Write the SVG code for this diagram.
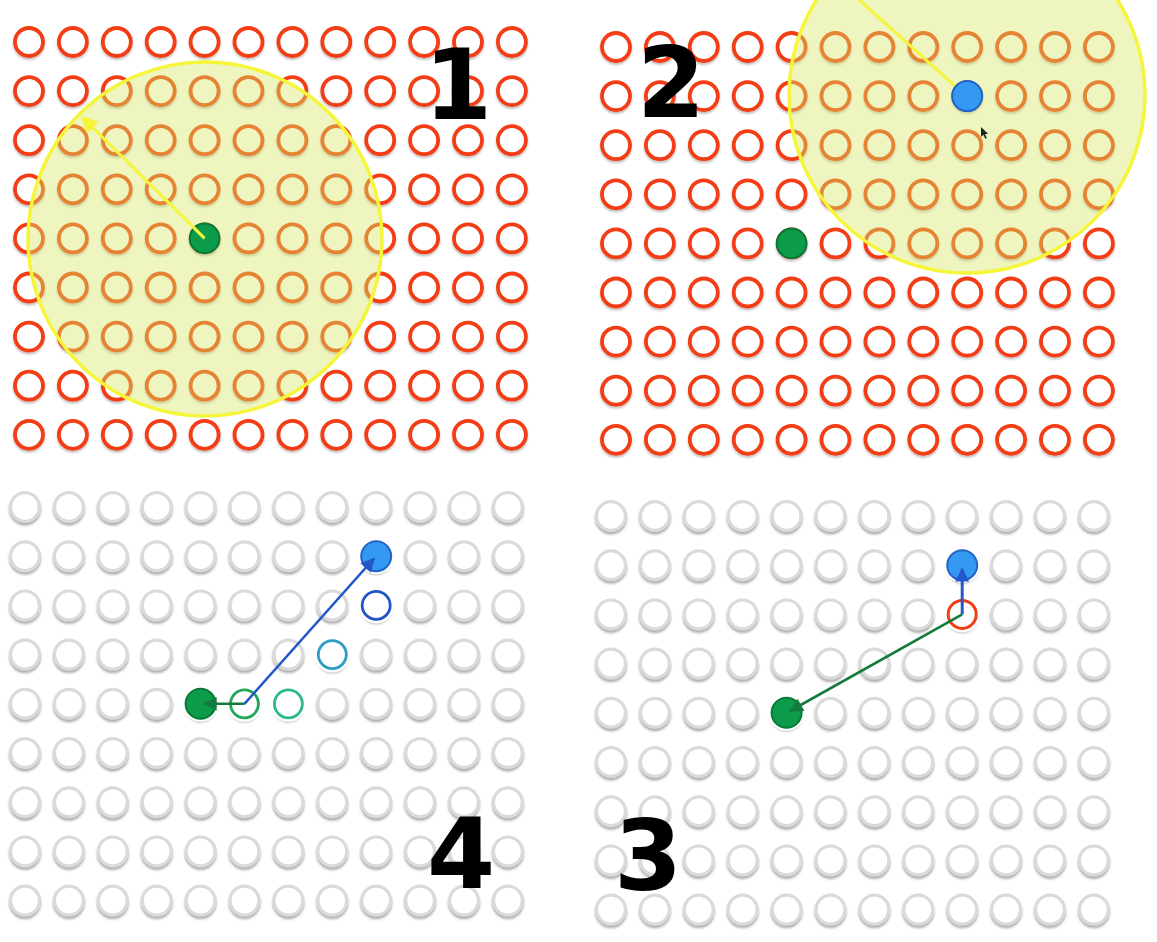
<svg xmlns="http://www.w3.org/2000/svg" xmlns:xlink="http://www.w3.org/1999/xlink" width="1157" height="942" viewBox="0 0 1157 942">
<style>
.red{fill:#fff;stroke:#f23c12;stroke-width:3.8}
.gray{fill:#fff;stroke:#dadada;stroke-width:3.2}
.zone{fill:rgb(214,230,100);fill-opacity:0.42;stroke:#f5f53a;stroke-width:3.5}
.gdot{fill:#0c9b4a;stroke:#087a38;stroke-width:2}
.bdot{fill:#3399f2;stroke:#2263c8;stroke-width:2}
.lbl{font-family:"DejaVu Sans",sans-serif;font-weight:bold;font-size:98px;fill:#000;text-anchor:middle}
</style>
<defs>
<filter id="sh" x="-5%" y="-5%" width="110%" height="115%">
<feDropShadow dx="0" dy="2" stdDeviation="1.2" flood-color="#000" flood-opacity="0.25"/>
</filter>
<filter id="shg" x="-5%" y="-5%" width="110%" height="115%">
<feDropShadow dx="0" dy="2.5" stdDeviation="1.3" flood-color="#777" flood-opacity="0.6"/>
</filter>
<g id="redrow">
<circle class="red" cx="0" cy="0" r="14"/><circle class="red" cx="43.9" cy="0" r="14"/><circle class="red" cx="87.8" cy="0" r="14"/><circle class="red" cx="131.7" cy="0" r="14"/><circle class="red" cx="175.6" cy="0" r="14"/><circle class="red" cx="219.5" cy="0" r="14"/><circle class="red" cx="263.4" cy="0" r="14"/><circle class="red" cx="307.3" cy="0" r="14"/><circle class="red" cx="351.2" cy="0" r="14"/><circle class="red" cx="395.1" cy="0" r="14"/><circle class="red" cx="439" cy="0" r="14"/><circle class="red" cx="482.9" cy="0" r="14"/>
</g>
<g id="grayrow">
<circle class="gray" cx="0" cy="0" r="14.4"/><circle class="gray" cx="43.9" cy="0" r="14.4"/><circle class="gray" cx="87.8" cy="0" r="14.4"/><circle class="gray" cx="131.7" cy="0" r="14.4"/><circle class="gray" cx="175.6" cy="0" r="14.4"/><circle class="gray" cx="219.5" cy="0" r="14.4"/><circle class="gray" cx="263.4" cy="0" r="14.4"/><circle class="gray" cx="307.3" cy="0" r="14.4"/><circle class="gray" cx="351.2" cy="0" r="14.4"/><circle class="gray" cx="395.1" cy="0" r="14.4"/><circle class="gray" cx="439" cy="0" r="14.4"/><circle class="gray" cx="482.9" cy="0" r="14.4"/>
</g>
<marker id="ay" viewBox="0 0 10 10" refX="9" refY="5" markerUnits="userSpaceOnUse" markerWidth="19" markerHeight="17" orient="auto"><path d="M0,0 L10,5 L0,10 z" fill="#f5f53a"/></marker>
<marker id="ab" viewBox="0 0 10 10" refX="9" refY="5" markerUnits="userSpaceOnUse" markerWidth="16" markerHeight="14" orient="auto"><path d="M0,0 L10,5 L0,10 z" fill="#2457c8"/></marker>
<marker id="ag" viewBox="0 0 10 10" refX="9" refY="5" markerUnits="userSpaceOnUse" markerWidth="16" markerHeight="14" orient="auto"><path d="M0,0 L10,5 L0,10 z" fill="#157a3e"/></marker>
</defs>
<rect width="1157" height="942" fill="#fff"/>

<g id="panel1">
<g filter="url(#sh)">
<use xlink:href="#redrow" x="29" y="42"/><use xlink:href="#redrow" x="29" y="91.1"/><use xlink:href="#redrow" x="29" y="140.2"/><use xlink:href="#redrow" x="29" y="189.3"/><use xlink:href="#redrow" x="29" y="238.4"/><use xlink:href="#redrow" x="29" y="287.5"/><use xlink:href="#redrow" x="29" y="336.6"/><use xlink:href="#redrow" x="29" y="385.7"/><use xlink:href="#redrow" x="29" y="434.8"/>
</g>
<circle id="p1-range" class="zone" cx="205" cy="239" r="177"/>
<circle id="p1-green" class="gdot" cx="204.6" cy="238.4" r="14.8"/>
<text class="lbl" x="458" y="119">1</text>
</g>

<g id="panel2">
<g filter="url(#sh)">
<use xlink:href="#redrow" x="616" y="47"/><use xlink:href="#redrow" x="616" y="96.1"/><use xlink:href="#redrow" x="616" y="145.2"/><use xlink:href="#redrow" x="616" y="194.3"/><use xlink:href="#redrow" x="616" y="243.4"/><use xlink:href="#redrow" x="616" y="292.5"/><use xlink:href="#redrow" x="616" y="341.6"/><use xlink:href="#redrow" x="616" y="390.7"/><use xlink:href="#redrow" x="616" y="439.8"/>
</g>
<circle id="p2-green" class="gdot" cx="791.6" cy="243.4" r="14.8"/>
<circle id="p2-range" class="zone" cx="967" cy="95" r="178"/>
<text class="lbl" x="671" y="117">2</text>
</g>

<g id="panel4">
<g filter="url(#shg)">
<use xlink:href="#grayrow" x="25" y="507"/><use xlink:href="#grayrow" x="25" y="556.2"/><use xlink:href="#grayrow" x="25" y="605.4"/><use xlink:href="#grayrow" x="25" y="654.6"/><use xlink:href="#grayrow" x="25" y="703.8"/><use xlink:href="#grayrow" x="25" y="753"/><use xlink:href="#grayrow" x="25" y="802.2"/><use xlink:href="#grayrow" x="25" y="851.4"/><use xlink:href="#grayrow" x="25" y="900.6"/>
</g>
<g id="p4-cells">
<circle cx="244.5" cy="703.8" r="18" fill="#fff"/>
<circle cx="288.4" cy="703.8" r="18" fill="#fff"/>
<circle cx="332.3" cy="654.6" r="18" fill="#fff"/>
<circle cx="376.2" cy="605.4" r="18" fill="#fff"/>
<circle cx="376.2" cy="556.2" r="18" fill="#fff"/>
<circle cx="200.6" cy="703.8" r="18" fill="#fff"/>
<circle cx="244.5" cy="703.8" r="14" fill="#fff" stroke="#22a85a" stroke-width="2.8"/>
<circle cx="288.4" cy="703.8" r="14" fill="#fff" stroke="#2db88e" stroke-width="2.8"/>
<circle cx="332.3" cy="654.6" r="14" fill="#fff" stroke="#2f9cc4" stroke-width="2.8"/>
<circle cx="376.2" cy="605.4" r="14" fill="#fff" stroke="#2254c4" stroke-width="2.8"/>
</g>
<circle id="p4-blue" class="bdot" cx="376.2" cy="556.2" r="15"/>
<circle id="p4-green" class="gdot" cx="200.6" cy="703.8" r="15"/>
<text class="lbl" x="461" y="888">4</text>
</g>

<g id="panel3">
<g filter="url(#shg)">
<use xlink:href="#grayrow" x="611" y="516"/><use xlink:href="#grayrow" x="611" y="565.2"/><use xlink:href="#grayrow" x="611" y="614.4"/><use xlink:href="#grayrow" x="611" y="663.6"/><use xlink:href="#grayrow" x="611" y="712.8"/><use xlink:href="#grayrow" x="611" y="762"/><use xlink:href="#grayrow" x="611" y="811.2"/><use xlink:href="#grayrow" x="611" y="860.4"/><use xlink:href="#grayrow" x="611" y="909.6"/>
</g>
<circle cx="962.2" cy="614.4" r="18" fill="#fff"/>
<circle cx="962.2" cy="565.2" r="18" fill="#fff"/>
<circle cx="786.6" cy="712.8" r="18" fill="#fff"/>
<circle id="p3-red" cx="962.2" cy="614.4" r="14" fill="#fff" stroke="#f23c12" stroke-width="3"/>
<circle id="p3-blue" class="bdot" cx="962.2" cy="565.2" r="15"/>
<circle id="p3-green" class="gdot" cx="786.6" cy="712.8" r="15"/>
<text class="lbl" x="648" y="890">3</text>
</g>

<g id="connectors">
<line x1="204.6" y1="238.4" x2="82" y2="117" stroke="#f5f53a" stroke-width="3" marker-end="url(#ay)"/>
<line x1="956" y1="87" x2="835" y2="-22" stroke="#f5f53a" stroke-width="3"/>
<line x1="244.5" y1="703.8" x2="374" y2="558.5" stroke="#2457c8" stroke-width="2.6" marker-end="url(#ab)"/>
<line x1="244.5" y1="703.8" x2="204" y2="703.8" stroke="#157a3e" stroke-width="2.6" marker-end="url(#ag)"/>
<line x1="962.2" y1="614.4" x2="962.2" y2="569" stroke="#2457c8" stroke-width="3" marker-end="url(#ab)"/>
<line x1="962.2" y1="614.4" x2="790" y2="711" stroke="#157a3e" stroke-width="2.6" marker-end="url(#ag)"/>
</g>
<circle id="p2-blue" class="bdot" cx="967.2" cy="96.1" r="15"/>
<path id="cursor" d="M981,127 l0,10 l2.4,-2.3 l1.9,4 l1.5,-0.7 l-1.9,-3.9 l3.3,0 z" fill="#222"/>
</svg>
